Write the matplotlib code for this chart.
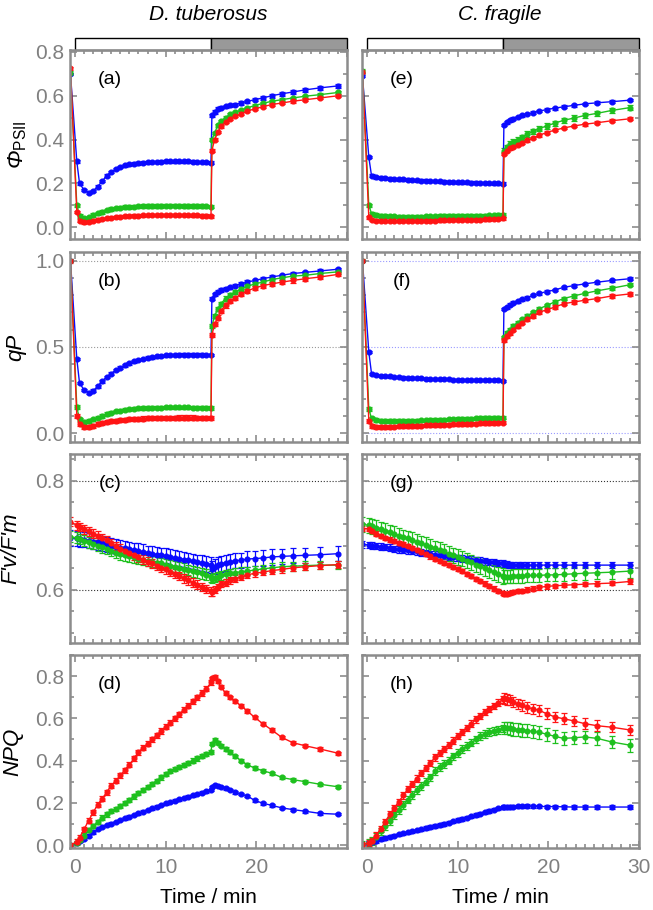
import matplotlib.pyplot as plt
import numpy as np
from matplotlib.ticker import MultipleLocator
from matplotlib.patches import Rectangle
from matplotlib.transforms import blended_transform_factory

plt.rcParams['font.family'] = ['Liberation Sans', 'DejaVu Sans']
plt.rcParams['mathtext.fontset'] = 'custom'
plt.rcParams['mathtext.rm'] = 'Liberation Sans'
plt.rcParams['mathtext.it'] = 'Liberation Sans:italic'

# time of each saturating pulse (min): dark value, light period 0-15, dark recovery
t = [-0.5, 0.2, 0.5,
     1.0, 1.5, 2.0, 2.5, 3.0, 3.5, 4.0, 4.5, 5.0, 5.5,
     6.0, 6.5, 7.0, 7.5, 8.0, 8.5, 9.0, 9.5, 10.0, 10.5,
     11.0, 11.5, 12.0, 12.5, 13.0, 13.5, 14.0, 14.5, 15.0,
     15.1, 15.4, 15.75, 16.1, 16.6, 17.1, 17.7, 18.3, 19.0,
     19.8, 20.7, 21.7, 22.8, 24.0, 25.4, 27.0, 29.0]

species = ["D. tuberosus", "C. fragile"]
colors = ["#0a0aff", "#1ec01e", "#ff1414"]

# ---- (a) PhiPSII, D. tuberosus
phi_dt_b = [0.70, 0.30, 0.20,
            0.17, 0.158, 0.165, 0.185, 0.21, 0.235, 0.252, 0.265, 0.275, 0.282,
            0.287, 0.29, 0.292, 0.294, 0.296, 0.297, 0.298, 0.299, 0.30, 0.30,
            0.30, 0.30, 0.30, 0.30, 0.299, 0.298, 0.297, 0.296, 0.295,
            0.51, 0.526, 0.541, 0.546, 0.552, 0.556, 0.56, 0.567, 0.574,
            0.582, 0.59, 0.60, 0.609, 0.617, 0.627, 0.636, 0.645]
phi_dt_g = [0.705, 0.10, 0.05,
            0.04, 0.045, 0.055, 0.063, 0.07, 0.077, 0.082, 0.086, 0.089, 0.091,
            0.093, 0.094, 0.095, 0.096, 0.096, 0.097, 0.097, 0.097, 0.098, 0.098,
            0.098, 0.098, 0.097, 0.097, 0.097, 0.096, 0.096, 0.095, 0.094,
            0.40, 0.43, 0.465, 0.485, 0.50, 0.515, 0.525, 0.535, 0.545,
            0.555, 0.565, 0.575, 0.582, 0.59, 0.598, 0.605, 0.615]
phi_dt_r = [0.725, 0.07, 0.03,
            0.022, 0.025, 0.03, 0.034, 0.038, 0.041, 0.044, 0.046, 0.048, 0.05,
            0.051, 0.052, 0.053, 0.054, 0.055, 0.055, 0.055, 0.056, 0.056, 0.056,
            0.056, 0.055, 0.055, 0.055, 0.054, 0.054, 0.053, 0.052, 0.05,
            0.35, 0.40, 0.435, 0.46, 0.48, 0.495, 0.507, 0.518, 0.53,
            0.54, 0.55, 0.56, 0.567, 0.575, 0.582, 0.59, 0.60]

# ---- (e) PhiPSII, C. fragile
phi_cf_b = [0.69, 0.32, 0.235,
            0.228, 0.226, 0.224, 0.222, 0.22, 0.219, 0.218, 0.217, 0.215, 0.214,
            0.213, 0.212, 0.211, 0.21, 0.209, 0.208, 0.207, 0.206, 0.205, 0.205,
            0.204, 0.203, 0.203, 0.202, 0.201, 0.201, 0.20, 0.20, 0.199,
            0.466, 0.478, 0.488, 0.495, 0.503, 0.51, 0.517, 0.523, 0.53,
            0.537, 0.543, 0.55, 0.556, 0.563, 0.568, 0.573, 0.58]
phi_cf_g = [0.715, 0.10, 0.062,
            0.055, 0.052, 0.05, 0.049, 0.049, 0.048, 0.048, 0.048, 0.048, 0.048,
            0.048, 0.049, 0.049, 0.049, 0.05, 0.05, 0.05, 0.05, 0.051, 0.051,
            0.052, 0.052, 0.052, 0.053, 0.053, 0.054, 0.054, 0.055, 0.055,
            0.35, 0.365, 0.38, 0.39, 0.40, 0.41, 0.425, 0.437, 0.45,
            0.462, 0.475, 0.488, 0.498, 0.51, 0.52, 0.533, 0.546]
phi_cf_r = [0.71, 0.045, 0.032,
            0.03, 0.029, 0.029, 0.028, 0.028, 0.028, 0.028, 0.028, 0.029, 0.029,
            0.029, 0.03, 0.03, 0.03, 0.031, 0.031, 0.032, 0.032, 0.033, 0.033,
            0.034, 0.034, 0.035, 0.035, 0.036, 0.036, 0.037, 0.038, 0.04,
            0.335, 0.35, 0.36, 0.366, 0.377, 0.386, 0.397, 0.407, 0.42,
            0.432, 0.443, 0.453, 0.462, 0.47, 0.477, 0.486, 0.495]

# ---- (b) qP, D. tuberosus
qp_dt_b = [1.0, 0.43, 0.29,
           0.25, 0.235, 0.245, 0.27, 0.30, 0.325, 0.345, 0.365, 0.38, 0.393,
           0.405, 0.415, 0.423, 0.43, 0.436, 0.44, 0.444, 0.447, 0.45, 0.452,
           0.453, 0.454, 0.455, 0.455, 0.455, 0.455, 0.454, 0.453, 0.452,
           0.78, 0.805, 0.82, 0.83, 0.838, 0.845, 0.855, 0.865, 0.875,
           0.885, 0.895, 0.905, 0.915, 0.925, 0.932, 0.94, 0.95]
qp_dt_g = [1.0, 0.15, 0.08,
           0.065, 0.07, 0.08, 0.09, 0.10, 0.11, 0.118, 0.125, 0.13, 0.135,
           0.138, 0.141, 0.143, 0.145, 0.146, 0.147, 0.148, 0.148, 0.149, 0.149,
           0.149, 0.149, 0.149, 0.149, 0.148, 0.148, 0.147, 0.147, 0.146,
           0.62, 0.68, 0.72, 0.75, 0.78, 0.80, 0.82, 0.835, 0.85,
           0.865, 0.875, 0.89, 0.90, 0.91, 0.915, 0.925, 0.935]
qp_dt_r = [1.0, 0.10, 0.05,
           0.035, 0.035, 0.042, 0.05, 0.057, 0.063, 0.068, 0.072, 0.075, 0.078,
           0.08, 0.082, 0.083, 0.084, 0.085, 0.086, 0.087, 0.088, 0.088, 0.089,
           0.089, 0.09, 0.09, 0.09, 0.09, 0.089, 0.088, 0.087, 0.086,
           0.57, 0.63, 0.67, 0.71, 0.74, 0.765, 0.785, 0.805, 0.825,
           0.84, 0.855, 0.865, 0.875, 0.885, 0.895, 0.905, 0.92]

# ---- (f) qP, C. fragile
qp_cf_b = [1.0, 0.47, 0.345,
           0.335, 0.332, 0.33, 0.328, 0.326, 0.324, 0.322, 0.32, 0.319, 0.318,
           0.317, 0.316, 0.315, 0.314, 0.313, 0.312, 0.311, 0.31, 0.31, 0.309,
           0.309, 0.308, 0.308, 0.307, 0.307, 0.306, 0.306, 0.305, 0.303,
           0.72, 0.73, 0.745, 0.755, 0.765, 0.775, 0.785, 0.80, 0.81,
           0.82, 0.83, 0.845, 0.855, 0.865, 0.875, 0.885, 0.895]
qp_cf_g = [1.0, 0.14, 0.085,
           0.075, 0.072, 0.071, 0.07, 0.07, 0.07, 0.071, 0.071, 0.072, 0.072,
           0.073, 0.074, 0.075, 0.076, 0.077, 0.078, 0.079, 0.08, 0.081, 0.082,
           0.083, 0.084, 0.085, 0.086, 0.087, 0.088, 0.089, 0.09, 0.09,
           0.555, 0.58, 0.60, 0.62, 0.64, 0.66, 0.68, 0.70, 0.72,
           0.74, 0.76, 0.78, 0.795, 0.81, 0.825, 0.84, 0.86]
qp_cf_r = [1.0, 0.07, 0.042,
           0.036, 0.035, 0.035, 0.036, 0.037, 0.038, 0.039, 0.04, 0.041, 0.042,
           0.043, 0.044, 0.045, 0.046, 0.047, 0.048, 0.049, 0.05, 0.051, 0.052,
           0.053, 0.054, 0.055, 0.056, 0.057, 0.058, 0.059, 0.06, 0.06,
           0.54, 0.56, 0.58, 0.60, 0.62, 0.64, 0.66, 0.68, 0.70,
           0.715, 0.73, 0.75, 0.76, 0.77, 0.78, 0.795, 0.807]

# ---- (c) F'v/F'm, D. tuberosus
fv_dt_b = [0.695, 0.694, 0.693,
           0.692, 0.69, 0.688, 0.687, 0.685, 0.683, 0.681, 0.679, 0.677, 0.676,
           0.674, 0.672, 0.671, 0.669, 0.667, 0.666, 0.664, 0.663, 0.662, 0.66,
           0.658, 0.657, 0.655, 0.654, 0.652, 0.65, 0.649, 0.647, 0.645,
           0.638, 0.642, 0.645, 0.647, 0.649, 0.651, 0.653, 0.654, 0.656,
           0.657, 0.658, 0.66, 0.661, 0.662, 0.663, 0.664, 0.666]
fv_dt_g = [0.697, 0.695, 0.693,
           0.69, 0.687, 0.684, 0.681, 0.678, 0.675, 0.671, 0.668, 0.665, 0.663,
           0.661, 0.659, 0.657, 0.655, 0.653, 0.651, 0.649, 0.648, 0.646, 0.644,
           0.642, 0.64, 0.638, 0.636, 0.634, 0.632, 0.63, 0.627, 0.624,
           0.62, 0.622, 0.624, 0.626, 0.628, 0.63, 0.631, 0.633, 0.634,
           0.636, 0.638, 0.64, 0.642, 0.643, 0.644, 0.645, 0.645]
fv_dt_r = [0.725, 0.718, 0.715,
           0.711, 0.707, 0.703, 0.699, 0.695, 0.691, 0.685, 0.68, 0.675, 0.671,
           0.667, 0.663, 0.659, 0.655, 0.651, 0.648, 0.644, 0.64, 0.637, 0.633,
           0.629, 0.625, 0.621, 0.617, 0.613, 0.609, 0.605, 0.601, 0.597,
           0.595, 0.60, 0.605, 0.61, 0.613, 0.617, 0.62, 0.623, 0.627,
           0.63, 0.632, 0.635, 0.637, 0.64, 0.642, 0.644, 0.646]

# ---- (g) F'v/F'm, C. fragile
fv_cf_b = [0.683, 0.682, 0.681,
           0.68, 0.679, 0.678, 0.677, 0.675, 0.674, 0.673, 0.672, 0.671, 0.67,
           0.668, 0.667, 0.665, 0.664, 0.663, 0.662, 0.66, 0.659, 0.658, 0.657,
           0.656, 0.655, 0.654, 0.653, 0.652, 0.651, 0.65, 0.649, 0.648,
           0.647, 0.646, 0.645, 0.645, 0.645, 0.645, 0.645, 0.645, 0.645,
           0.645, 0.645, 0.645, 0.645, 0.645, 0.645, 0.645, 0.645]
fv_cf_g = [0.72, 0.718, 0.716,
           0.714, 0.711, 0.708, 0.705, 0.702, 0.699, 0.696, 0.694, 0.691, 0.688,
           0.685, 0.682, 0.679, 0.676, 0.673, 0.67, 0.666, 0.663, 0.66, 0.657,
           0.653, 0.65, 0.646, 0.643, 0.639, 0.636, 0.632, 0.628, 0.625,
           0.624, 0.624, 0.624, 0.625, 0.625, 0.625, 0.626, 0.626, 0.626,
           0.627, 0.627, 0.628, 0.629, 0.63, 0.631, 0.632, 0.634]
fv_cf_r = [0.712, 0.712, 0.708,
           0.703, 0.699, 0.695, 0.692, 0.689, 0.686, 0.683, 0.68, 0.677, 0.673,
           0.669, 0.665, 0.661, 0.657, 0.653, 0.649, 0.645, 0.641, 0.638, 0.634,
           0.629, 0.625, 0.62, 0.616, 0.611, 0.607, 0.602, 0.598, 0.594,
           0.592, 0.592, 0.594, 0.596, 0.597, 0.598, 0.60, 0.602, 0.604,
           0.606, 0.607, 0.608, 0.609, 0.61, 0.611, 0.612, 0.615]

# ---- (d) NPQ, D. tuberosus
npq_dt_b = [0.0, 0.01, 0.02,
            0.03, 0.045, 0.06, 0.075, 0.085, 0.095, 0.102, 0.11, 0.118, 0.126,
            0.134, 0.142, 0.15, 0.158, 0.166, 0.174, 0.182, 0.19, 0.197, 0.204,
            0.21, 0.216, 0.222, 0.229, 0.235, 0.242, 0.248, 0.254, 0.26,
            0.275, 0.284, 0.28, 0.275, 0.268, 0.26, 0.25, 0.242, 0.232,
            0.212, 0.198, 0.188, 0.176, 0.168, 0.16, 0.15, 0.146]
npq_dt_g = [0.0, 0.01, 0.025,
            0.045, 0.07, 0.09, 0.11, 0.13, 0.145, 0.16, 0.172, 0.185, 0.20,
            0.215, 0.23, 0.245, 0.26, 0.275, 0.29, 0.305, 0.32, 0.335, 0.35,
            0.36, 0.37, 0.38, 0.39, 0.40, 0.41, 0.42, 0.43, 0.44,
            0.48, 0.497, 0.485, 0.47, 0.455, 0.44, 0.42, 0.40, 0.38,
            0.365, 0.352, 0.34, 0.32, 0.31, 0.30, 0.288, 0.276]
npq_dt_r = [0.0, 0.015, 0.035,
            0.075, 0.115, 0.155, 0.19, 0.22, 0.25, 0.28, 0.305, 0.33, 0.355,
            0.38, 0.41, 0.44, 0.46, 0.48, 0.50, 0.52, 0.54, 0.56, 0.58,
            0.60, 0.62, 0.64, 0.66, 0.68, 0.70, 0.72, 0.74, 0.77,
            0.79, 0.795, 0.775, 0.75, 0.72, 0.70, 0.68, 0.66, 0.635,
            0.605, 0.575, 0.545, 0.51, 0.485, 0.47, 0.455, 0.435]

# ---- (h) NPQ, C. fragile
npq_cf_b = [0.0, 0.01, 0.015,
            0.02, 0.027, 0.033, 0.04, 0.045, 0.05, 0.055, 0.06, 0.065, 0.07,
            0.075, 0.08, 0.085, 0.09, 0.095, 0.10, 0.106, 0.112, 0.118, 0.124,
            0.13, 0.136, 0.142, 0.148, 0.155, 0.162, 0.168, 0.174, 0.178,
            0.18, 0.178, 0.18, 0.182, 0.183, 0.184, 0.185, 0.184, 0.183,
            0.182, 0.182, 0.181, 0.18, 0.18, 0.18, 0.18, 0.18]
npq_cf_g = [0.0, 0.01, 0.02,
            0.04, 0.065, 0.09, 0.115, 0.14, 0.165, 0.19, 0.215, 0.237, 0.26,
            0.28, 0.30, 0.32, 0.35, 0.37, 0.385, 0.40, 0.42, 0.435, 0.455,
            0.47, 0.485, 0.50, 0.515, 0.525, 0.535, 0.54, 0.545, 0.552,
            0.555, 0.555, 0.552, 0.548, 0.546, 0.544, 0.542, 0.538, 0.534,
            0.525, 0.515, 0.505, 0.508, 0.512, 0.505, 0.488, 0.473]
npq_cf_r = [0.0, 0.01, 0.02,
            0.045, 0.075, 0.11, 0.145, 0.175, 0.205, 0.235, 0.265, 0.29, 0.315,
            0.34, 0.365, 0.39, 0.415, 0.435, 0.455, 0.475, 0.495, 0.515, 0.535,
            0.555, 0.575, 0.595, 0.61, 0.63, 0.645, 0.66, 0.675, 0.69,
            0.695, 0.69, 0.686, 0.678, 0.668, 0.662, 0.652, 0.645, 0.638,
            0.622, 0.607, 0.598, 0.588, 0.575, 0.565, 0.558, 0.545]

# error bar half-widths (light period, dark period) for blue, green, red
err_a = [(0.006, 0.008), (0.008, 0.006), (0.006, 0.006)]
err_e = [(0.006, 0.006), (0.008, 0.012), (0.006, 0.006)]
err_b = [(0.008, 0.010), (0.010, 0.012), (0.012, 0.012)]
err_f = [(0.006, 0.008), (0.010, 0.010), (0.010, 0.010)]
err_c = [(0.014, 0.014), (0.010, 0.008), (0.008, 0.006)]
err_g = [(0.006, 0.006), (0.014, 0.012), (0.004, 0.004)]
err_d = [(0.006, 0.006), (0.010, 0.008), (0.012, 0.008)]
err_h = [(0.008, 0.008), (0.018, 0.030), (0.015, 0.025)]

panels = [
    ("(a)", "(e)", [phi_dt_b, phi_dt_g, phi_dt_r], err_a, [phi_cf_b, phi_cf_g, phi_cf_r], err_e),
    ("(b)", "(f)", [qp_dt_b, qp_dt_g, qp_dt_r], err_b, [qp_cf_b, qp_cf_g, qp_cf_r], err_f),
    ("(c)", "(g)", [fv_dt_b, fv_dt_g, fv_dt_r], err_c, [fv_cf_b, fv_cf_g, fv_cf_r], err_g),
    ("(d)", "(h)", [npq_dt_b, npq_dt_g, npq_dt_r], err_d, [npq_cf_b, npq_cf_g, npq_cf_r], err_h),
]
ylabels = ['Φ$_{\\mathrm{PSII}}$', 'qP', "F'v/F'm", 'NPQ']
ylabel_x = [18, 16, 11, 13]
ylims = [(-0.054, 0.809), (-0.052, 1.05), (0.502, 0.849), (-0.014, 0.90)]
ymajor = [0.2, 0.5, 0.2, 0.2]
yminor = [0.1, 0.1, 0.04, 0.1]

t_arr = np.array(t)
fig = plt.figure(figsize=(6.53, 9.10), dpi=100)
W, H = 653, 910
col_x = [70, 362]
row_y = [(50, 239), (252, 442), (454, 643), (655, 848)]
frame = "#8c8c8c"

for r, (lab_l, lab_r, dt, edt, cf, ecf) in enumerate(panels):
    for c, (lab, series, errs) in enumerate([(lab_l, dt, edt), (lab_r, cf, ecf)]):
        yt, yb = row_y[r]
        ax = fig.add_axes([col_x[c] / W, 1 - yb / H, 277 / W, (yb - yt) / H])
        for y, (el, ed), col in zip(series, errs, colors):
            err = np.where(t_arr > 15.05, ed, el)
            ax.errorbar(t_arr, y, yerr=err, color=col, marker='o', ms=3.4,
                        lw=1.0, elinewidth=0.9, capsize=2.4, capthick=0.9)
        ax.set_xlim(-0.55, 30.0)
        ax.set_ylim(*ylims[r])
        ax.xaxis.set_major_locator(MultipleLocator(10))
        ax.xaxis.set_minor_locator(MultipleLocator(1))
        ax.yaxis.set_major_locator(MultipleLocator(ymajor[r]))
        ax.yaxis.set_minor_locator(MultipleLocator(yminor[r]))
        ax.tick_params(which='both', direction='in', top=True, right=True,
                       colors=frame, labelcolor='#808080', labelsize=15, width=1.2)
        ax.tick_params(which='major', length=5)
        ax.tick_params(which='minor', length=3)
        ax.tick_params(axis='x', pad=7)
        ax.tick_params(axis='y', pad=4)
        for sp in ax.spines.values():
            sp.set_color(frame)
            sp.set_linewidth(1.8)
        # reference lines
        if r == 1:
            gcol = "#9a9a9a" if c == 0 else "#9a9aff"
            for yv in ([0.5, 1.0] if c == 0 else [0.0, 0.5, 1.0]):
                ax.axhline(yv, color=gcol, ls=':', lw=0.8, zorder=0)
        if r == 2:
            for yv in [0.6, 0.8]:
                ax.axhline(yv, color='#333333', ls=':', lw=0.8, zorder=0)
        ax.text(0.145, 0.845, lab, transform=ax.transAxes, ha='center', va='center', fontsize=14)
        if c == 0:
            fig.text(ylabel_x[r] / W, 1 - (yt + yb) / 2 / H, ylabels[r], rotation=90,
                     style='italic', fontsize=16, ha='center', va='center')
        else:
            ax.tick_params(labelleft=False)
        if r == 3:
            ax.set_xlabel('Time / min', fontsize=15, labelpad=8)
            if c == 0:
                ax.set_xticks([0, 10, 20])
        else:
            ax.tick_params(labelbottom=False)
        if r == 0:
            tr = blended_transform_factory(ax.transData, ax.transAxes)
            ax.add_patch(Rectangle((0, 1.0), 15, 0.063, transform=tr, facecolor='white',
                                   edgecolor='black', lw=1, clip_on=False))
            ax.add_patch(Rectangle((15, 1.0), 15, 0.063, transform=tr, facecolor='#999999',
                                   edgecolor='black', lw=1, clip_on=False))
            fig.text((col_x[c] + 138) / W, 1 - 14 / H, species[c], style='italic',
                     ha='center', va='center', fontsize=15)

fig.savefig("out.png", dpi=100)
